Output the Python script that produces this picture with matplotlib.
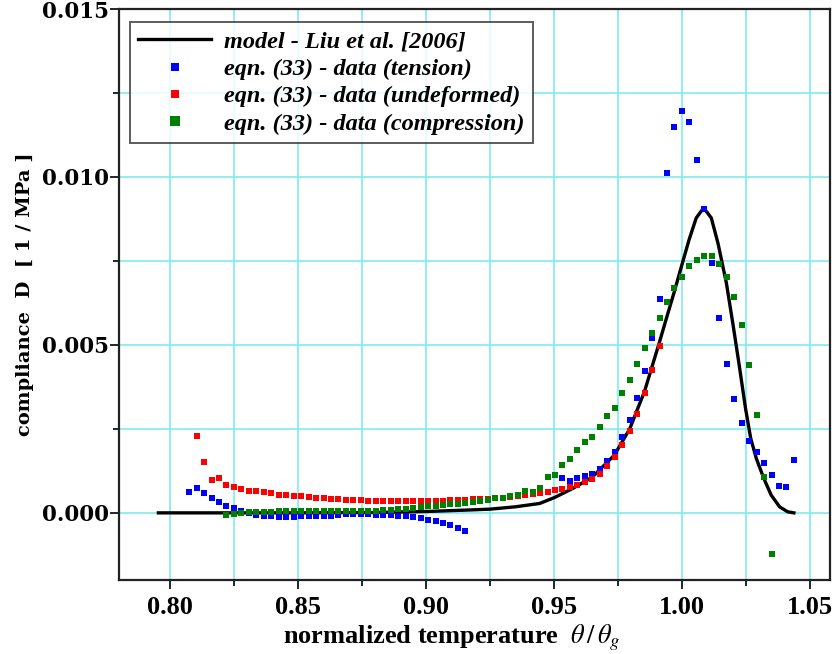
import matplotlib
matplotlib.use("Agg")
import numpy as np
import matplotlib.pyplot as plt
from matplotlib.ticker import MultipleLocator, FormatStrFormatter

plt.rcParams['mathtext.fontset'] = 'stix'

# normalized temperature grid of the measurements (theta / theta_g)
theta = [0.8074, 0.8103, 0.8132, 0.8162, 0.8191, 0.8220, 0.8249, 0.8278, 0.8308, 0.8337,
         0.8366, 0.8395, 0.8424, 0.8454, 0.8483, 0.8512, 0.8541, 0.8570, 0.8600, 0.8629,
         0.8658, 0.8687, 0.8716, 0.8746, 0.8775, 0.8804, 0.8833, 0.8862, 0.8892, 0.8921,
         0.8950, 0.8979, 0.9008, 0.9038, 0.9067, 0.9096, 0.9125, 0.9154, 0.9184, 0.9213,
         0.9242, 0.9271, 0.9300, 0.9330, 0.9359, 0.9388, 0.9417, 0.9446, 0.9476, 0.9505,
         0.9534, 0.9563, 0.9592, 0.9622, 0.9651, 0.9680, 0.9709, 0.9738, 0.9768, 0.9797,
         0.9826, 0.9855, 0.9884, 0.9914, 0.9943, 0.9972, 1.0001, 1.0030, 1.0060, 1.0089,
         1.0118, 1.0147, 1.0176, 1.0206, 1.0235, 1.0264, 1.0293, 1.0322, 1.0352, 1.0381,
         1.0410, 1.0439]

# tension: two runs (theta[0:38] and theta[50:82])
tension_low = [0.00061, 0.00074, 0.00058, 0.00045, 0.00033, 0.00021, 0.00013, 0.00006, 0.00000, -0.00005,
               -0.00008, -0.00010, -0.00011, -0.00011, -0.00011, -0.00010, -0.00010, -0.00010, -0.00010, -0.00008,
               -0.00005, -0.00004, -0.00004, -0.00004, -0.00004, -0.00005, -0.00005, -0.00006, -0.00008, -0.00010,
               -0.00013, -0.00016, -0.00020, -0.00025, -0.00030, -0.00036, -0.00044, -0.00055]
tension_high = [0.00105, 0.00096, 0.00103, 0.00109, 0.00116, 0.00130, 0.00155, 0.00182, 0.00225, 0.00276,
                0.00341, 0.00423, 0.00520, 0.00636, 0.01011, 0.01150, 0.01196, 0.01164, 0.01051, 0.00906,
                0.00745, 0.00580, 0.00443, 0.00339, 0.00267, 0.00215, 0.00180, 0.00148, 0.00112, 0.00080,
                0.00076, 0.00156]

# undeformed: theta[1:64]
undeformed = [0.00229, 0.00150, 0.00098, 0.00104, 0.00082, 0.00078, 0.00072, 0.00066, 0.00066,
              0.00061, 0.00060, 0.00053, 0.00053, 0.00051, 0.00050, 0.00047, 0.00045, 0.00043, 0.00042,
              0.00040, 0.00039, 0.00038, 0.00037, 0.00036, 0.00035, 0.00035, 0.00034, 0.00034, 0.00034,
              0.00034, 0.00035, 0.00035, 0.00036, 0.00036, 0.00037, 0.00038, 0.00039, 0.00040, 0.00041,
              0.00042, 0.00044, 0.00045, 0.00047, 0.00049, 0.00052, 0.00055, 0.00058, 0.00062, 0.00067,
              0.00072, 0.00077, 0.00084, 0.00092, 0.00101, 0.00117, 0.00140, 0.00167, 0.00201, 0.00243,
              0.00294, 0.00358, 0.00426, 0.00498]

# compression: theta[5:79]
compression = [-0.00007, -0.00002, 0.00001, 0.00002, 0.00003,
               0.00004, 0.00004, 0.00005, 0.00005, 0.00005, 0.00005, 0.00005, 0.00005, 0.00005, 0.00005,
               0.00005, 0.00005, 0.00005, 0.00005, 0.00006, 0.00007, 0.00008, 0.00009, 0.00010, 0.00012,
               0.00014, 0.00016, 0.00019, 0.00021, 0.00023, 0.00025, 0.00027, 0.00029, 0.00031, 0.00034,
               0.00038, 0.00043, 0.00045, 0.00049, 0.00053, 0.00065, 0.00062, 0.00073, 0.00106, 0.00114,
               0.00142, 0.00159, 0.00187, 0.00212, 0.00227, 0.00255, 0.00288, 0.00311, 0.00356, 0.00396,
               0.00442, 0.00490, 0.00536, 0.00581, 0.00628, 0.00668, 0.00703, 0.00736, 0.00752, 0.00765,
               0.00764, 0.00741, 0.00701, 0.00644, 0.00560, 0.00441, 0.00291, 0.00107, -0.00123]

# model curve (Liu et al. 2006)
model_x = [0.7954, 0.8500, 0.8800, 0.9000, 0.9150, 0.9250, 0.9350, 0.9445, 0.9504, 0.9575,
           0.9650, 0.9737, 0.9797, 0.9855, 0.9912, 0.9940, 0.9970, 0.9999, 1.0029, 1.0057,
           1.0086, 1.0116, 1.0142, 1.0175, 1.0201, 1.0225, 1.0250, 1.0270, 1.0292, 1.0320,
           1.0350, 1.0383, 1.0415, 1.0439]
model_y = [0.00000, 0.00000, 0.00001, 0.00004, 0.00008, 0.00011, 0.00018, 0.00028, 0.00046, 0.00073,
           0.00106, 0.00172, 0.00250, 0.00362, 0.00505, 0.00578, 0.00655, 0.00733, 0.00813, 0.00878,
           0.00908, 0.00878, 0.00803, 0.00684, 0.00560, 0.00440, 0.00310, 0.00222, 0.00162, 0.00105,
           0.00053, 0.00018, 0.00003, 0.00000]

fig = plt.figure(figsize=(8.37, 6.54), dpi=100)
ax = fig.add_axes([0.1422, 0.1131, 0.8494, 0.8731])

grid_color = '#7fecf2'
ax.xaxis.set_major_locator(MultipleLocator(0.05))
ax.xaxis.set_minor_locator(MultipleLocator(0.025))
ax.yaxis.set_major_locator(MultipleLocator(0.005))
ax.yaxis.set_minor_locator(MultipleLocator(0.0025))
ax.xaxis.set_major_formatter(FormatStrFormatter('%.2f'))
ax.yaxis.set_major_formatter(FormatStrFormatter('%.3f'))
ax.grid(True, which='both', color=grid_color, lw=1.2, zorder=0)
ax.set_axisbelow(True)

ax.plot(model_x, model_y, color='black', lw=2.4, zorder=3, label='model - Liu et al. [2006]')
ms = 4.2
ax.plot(theta[0:38], tension_low, 's', color='#0000ff', ms=ms, mew=0, zorder=4,
        label='eqn. (33) - data (tension)')
ax.plot(theta[50:82], tension_high, 's', color='#0000ff', ms=ms, mew=0, zorder=4)
ax.plot(theta[1:64], undeformed, 's', color='#ff0000', ms=ms, mew=0, zorder=4,
        label='eqn. (33) - data (undeformed)')
ax.plot(theta[5:79], compression, 's', color='#008000', ms=ms + 0.6, mew=0, zorder=4,
        label='eqn. (33) - data (compression)')

ax.set_xlim(0.780, 1.058)
ax.set_ylim(-0.002, 0.015)

for s in ax.spines.values():
    s.set_linewidth(1.6)
    s.set_color('#222222')

ax.tick_params(which='both', direction='out', top=False, right=False, width=1.2)
ax.tick_params(which='major', length=6.5)
ax.tick_params(which='minor', length=4.5)
ax.tick_params(axis='x', which='major', pad=5)
ax.tick_params(axis='y', which='major', pad=1)
for lab in ax.get_xticklabels():
    lab.set_fontfamily('Liberation Serif')
    lab.set_fontweight('bold')
    lab.set_fontsize(19)
for lab in ax.get_yticklabels():
    lab.set_fontfamily('DejaVu Serif')
    lab.set_fontweight('bold')
    lab.set_fontsize(15.5)

ax.set_xlabel(r'normalized temperature  $\theta\,/\,\theta_g$', fontfamily='Liberation Serif',
              fontweight='bold', fontsize=19)
ax.xaxis.set_label_coords(0.468, -0.074)
ax.set_ylabel('compliance  D  [ 1 / MPa ]', fontfamily='DejaVu Serif', fontweight='bold',
              fontsize=14)
ax.yaxis.set_label_coords(-0.120, 0.50)

leg = ax.legend(loc='upper left', bbox_to_anchor=(0.015, 0.977), frameon=True, fancybox=False,
                edgecolor='#333333', handlelength=3.0, handletextpad=0.55, borderpad=0.35,
                labelspacing=0.22, markerscale=1.4, borderaxespad=0,
                prop={'family': 'Liberation Serif', 'weight': 'bold', 'style': 'italic', 'size': 17.5})
leg.get_frame().set_linewidth(1.4)

fig.savefig('out.png', dpi=100)
